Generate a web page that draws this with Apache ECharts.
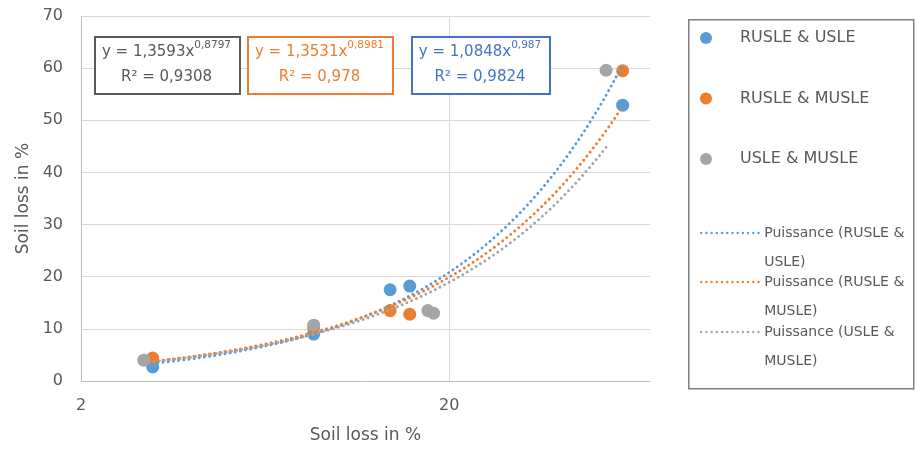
<!DOCTYPE html>
<html>
<head>
<meta charset="utf-8">
<script src="https://cdn.jsdelivr.net/npm/echarts@6/dist/echarts.min.js"></script>
<style>
html,body{margin:0;padding:0;background:#fff;}
#chart{width:915px;height:450px;}
</style>
</head>
<body>
<div id="chart"></div>
<script>
// ---- Data ----
const seriesNames = ['RUSLE & USLE', 'RUSLE & MUSLE', 'USLE & MUSLE'];
const trendNames = ['Puissance (RUSLE & USLE)', 'Puissance (RUSLE & MUSLE)', 'Puissance (USLE & MUSLE)'];

const rusleUsleX = [3.13, 8.56, 13.8, 15.6, 59.0];
const rusleUsleY = [2.7, 9.0, 17.5, 18.2, 52.9];

const rusleMusleX = [3.13, 8.56, 13.8, 15.6, 59.0];
const rusleMusleY = [4.4, 10.2, 13.5, 12.8, 59.5];

const usleMusleX = [2.96, 8.56, 17.47, 18.1, 53.2];
const usleMusleY = [4.0, 10.7, 13.5, 13.0, 59.6];

// Power trendline coefficients y = a * x^b (as printed on the chart)
const trendA = [1.0848, 1.3531, 1.3593];
const trendB = [0.987, 0.8981, 0.8797];
const trendLabels = [
  ['y = 1,0848x', '0,987', 'R² = 0,9824'],
  ['y = 1,3531x', '0,8981', 'R² = 0,978'],
  ['y = 1,3593x', '0,8797', 'R² = 0,9308']
];

const xTickLabels = [2, 20];
const xAxisMin = 2, xAxisMax = 70;
const yAxisMin = 0, yAxisMax = 70, yInterval = 10;

// ---- Styling ----
const colors = ['#5B9BD5', '#ED7D31', '#A5A5A5'];
const boxColors = ['#4472C4', '#ED7D31', '#595959'];
const textColor = '#595959';
const FONT = 'DejaVu Sans';
const DOT = [0.01, 5.2];

const xs = [rusleUsleX, rusleMusleX, usleMusleX];
const ys = [rusleUsleY, rusleMusleY, usleMusleY];

const lg = v => Math.log10(v);

const series = [];
seriesNames.forEach((n, i) => {
  series.push({
    name: n, type: 'scatter', symbolSize: 13, z: 2,
    itemStyle: {color: colors[i], opacity: 1},
    data: xs[i].map((x, k) => [lg(x), ys[i][k]])
  });
});
trendNames.forEach((n, i) => {
  const lo = Math.min(...xs[i]), hi = Math.max(...xs[i]);
  const pts = [];
  const N = 80;
  for (let k = 0; k <= N; k++) {
    const x = Math.pow(10, lg(lo) + (lg(hi) - lg(lo)) * k / N);
    pts.push([lg(x), trendA[i] * Math.pow(x, trendB[i])]);
  }
  series.push({
    name: n, type: 'line', showSymbol: false, symbol: 'none', z: 3,
    lineStyle: {color: colors[i], width: 2.9, type: DOT, cap: 'round'},
    itemStyle: {color: colors[i]},
    data: pts
  });
});

// equation boxes: [left, top, width, height] ; order blue, orange, gray
const boxes = [[411, 36, 138, 57], [247, 36, 145, 57], [94, 36, 145, 57]];
const graphic = [];
boxes.forEach((b, i) => {
  graphic.push({
    type: 'rect', left: b[0], top: b[1], z: 10,
    shape: {width: b[2], height: b[3]},
    style: {fill: '#fff', stroke: boxColors[i], lineWidth: 2}
  });
  graphic.push({
    type: 'text', z: 11,
    x: b[0] + b[2] / 2, y: b[1] + b[3] / 2,
    style: {
      text: '{b|' + trendLabels[i][0] + '}{s|' + trendLabels[i][1] + '}\n{b|' + trendLabels[i][2] + '}',
      align: 'center', verticalAlign: 'middle',
      fill: boxColors[i],
      rich: {
        b: {fontFamily: FONT, fontSize: 15, lineHeight: 25, fill: boxColors[i]},
        s: {fontFamily: FONT, fontSize: 10.5, lineHeight: 15, verticalAlign: 'top', fill: boxColors[i]}
      }
    }
  });
});
// legend frame
graphic.push({
  type: 'rect', left: 688, top: 19, z: 0,
  shape: {width: 225, height: 369},
  style: {fill: '#fff', stroke: '#7f7f7f', lineWidth: 1.5}
});

const legendCommon = {
  orient: 'vertical', left: 700, padding: 0, itemWidth: 58, itemHeight: 12,
  textStyle: {color: textColor, fontFamily: FONT, fontSize: 16},
  selectedMode: false
};
const legends = [
  Object.assign({}, legendCommon, {
    top: 28, itemGap: 40.5, data: seriesNames,
    textStyle: Object.assign({}, legendCommon.textStyle, {lineHeight: 20})
  })
];
const trendTops = [233, 282, 332];
trendNames.forEach((n, i) => {
  legends.push(Object.assign({}, legendCommon, {
    top: trendTops[i] - 43.5, data: [n],
    itemStyle: {opacity: 0},
    lineStyle: {width: 2.4, type: DOT, cap: 'round'},
    formatter: name => '\n' + name.replace('& ', '&\n'),
    textStyle: Object.assign({}, legendCommon.textStyle, {fontSize: 14, lineHeight: 29})
  }));
});

const chart = echarts.init(document.getElementById('chart'), null, {renderer: 'canvas'});
chart.setOption({
  animation: false,
  textStyle: {fontFamily: FONT},
  grid: {left: 81, top: 16, right: 265, bottom: 69, containLabel: false},
  xAxis: {
    type: 'value', min: lg(xAxisMin), max: lg(xAxisMax), interval: 1,
    name: 'Soil loss in %', nameLocation: 'middle', nameGap: 46,
    nameTextStyle: {color: textColor, fontFamily: FONT, fontSize: 17},
    axisLine: {show: true, onZero: false, lineStyle: {color: '#bfbfbf', width: 1}},
    axisTick: {show: false},
    axisLabel: {
      color: textColor, fontFamily: FONT, fontSize: 16, margin: 17,
      showMaxLabel: false,
      formatter: v => {
        const r = Math.pow(10, v);
        const t = xTickLabels.find(t => Math.abs(t - r) / t < 0.01);
        return t !== undefined ? String(t) : '';
      }
    },
    splitLine: {show: true, showMinLine: false, showMaxLine: false, lineStyle: {color: '#d9d9d9', width: 1}}
  },
  yAxis: {
    type: 'value', min: yAxisMin, max: yAxisMax, interval: yInterval,
    name: 'Soil loss in %', nameLocation: 'middle', nameGap: 48,
    nameTextStyle: {color: textColor, fontFamily: FONT, fontSize: 17},
    axisLine: {show: true, lineStyle: {color: '#bfbfbf', width: 1}},
    axisTick: {show: false},
    axisLabel: {color: textColor, fontFamily: FONT, fontSize: 16, margin: 18},
    splitLine: {show: true, lineStyle: {color: '#d9d9d9', width: 1}}
  },
  legend: legends,
  graphic: graphic,
  series: series
});
</script>
</body>
</html>
